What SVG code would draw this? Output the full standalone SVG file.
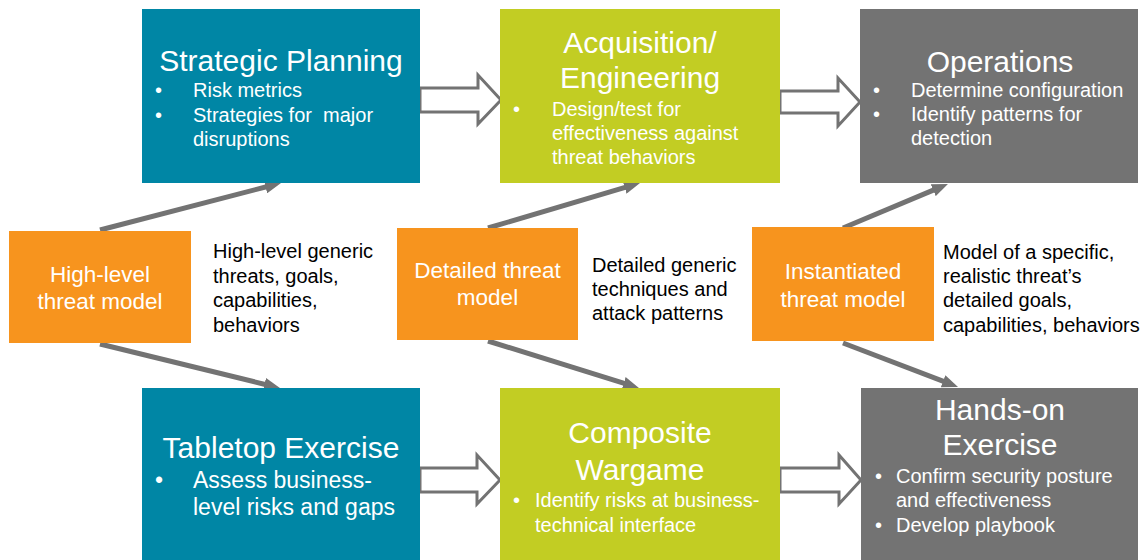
<svg xmlns="http://www.w3.org/2000/svg" width="1145" height="560" viewBox="0 0 1145 560">
<style>
  text { font-family: "Liberation Sans", Arial, sans-serif; }
  .teal { fill: #0086A5; }
  .lime { fill: #C2CD23; }
  .gray { fill: #737373; }
  .orange { fill: #F7941E; }
  .title { fill: #FFFFFF; font-size: 30px; text-anchor: middle; }
  .item { fill: #FFFFFF; font-size: 20px; }
  .item23 { fill: #FFFFFF; font-size: 23px; }
  .otext { fill: #FFFFFF; font-size: 22.5px; text-anchor: middle; }
  .desc { fill: #000000; font-size: 20px; }
  .conn { stroke: #737373; stroke-width: 5; fill: none; marker-end: url(#ah); }
  .block { fill: #FFFFFF; stroke: #737373; stroke-width: 3; stroke-linejoin: miter; }
</style>
<defs>
  <marker id="ah" markerUnits="userSpaceOnUse" markerWidth="16" markerHeight="13" refX="4" refY="6.5" orient="auto">
    <path d="M0,0 L16,6.5 L0,13 z" fill="#737373"/>
  </marker>
</defs>
<rect width="1145" height="560" fill="#FFFFFF"/>

<g id="connectors">
  <path class="block" d="M420,88 L478,88 L478,75 L501,100 L478,124 L478,112 L420,112 z"/>
  <path class="block" d="M780,91 L838,91 L838,78 L860,102 L838,126 L838,113 L780,113 z"/>
  <path class="block" d="M420,468 L477,468 L477,455 L500,480 L477,504 L477,492 L420,492 z"/>
  <path class="block" d="M780,468 L839,468 L839,455 L861,480 L839,504 L839,492 L780,492 z"/>
  <line class="conn" x1="100" y1="230" x2="269.4" y2="186"/>
  <line class="conn" x1="100" y1="344" x2="268.3" y2="385.2"/>
  <line class="conn" x1="488" y1="228" x2="628.5" y2="186.4"/>
  <line class="conn" x1="488" y1="341" x2="627.5" y2="384.4"/>
  <line class="conn" x1="843" y1="228" x2="936.9" y2="188.6"/>
  <line class="conn" x1="843" y1="343" x2="946.8" y2="382.7"/>
</g>

<g id="strategic-planning">
  <rect class="teal" x="142" y="9" width="278" height="174"/>
  <text class="title" x="281" y="71">Strategic Planning</text>
  <text class="item" x="155" y="97">•</text>
  <text class="item" x="193" y="97">Risk metrics</text>
  <text class="item" x="155" y="122">•</text>
  <text class="item" x="193" y="122" style="white-space:pre">Strategies for  major</text>
  <text class="item" x="193" y="146">disruptions</text>
</g>

<g id="acquisition-engineering">
  <rect class="lime" x="500" y="9" width="280" height="174"/>
  <text class="title" x="640" y="53">Acquisition/</text>
  <text class="title" x="640" y="88">Engineering</text>
  <text class="item" x="513" y="116">•</text>
  <text class="item" x="552" y="116">Design/test for</text>
  <text class="item" x="552" y="140">effectiveness against</text>
  <text class="item" x="552" y="164">threat behaviors</text>
</g>

<g id="operations">
  <rect class="gray" x="860" y="9" width="278" height="174"/>
  <text class="title" x="1000" y="72">Operations</text>
  <text class="item" x="873" y="97">•</text>
  <text class="item" x="911" y="97">Determine configuration</text>
  <text class="item" x="873" y="121">•</text>
  <text class="item" x="911" y="121">Identify patterns for</text>
  <text class="item" x="911" y="145">detection</text>
</g>

<g id="high-level-threat-model">
  <rect class="orange" x="9" y="231" width="182" height="112"/>
  <text class="otext" x="100" y="282">High-level</text>
  <text class="otext" x="100" y="309">threat model</text>
</g>
<g id="high-level-desc">
  <text class="desc" x="213" y="258">High-level generic</text>
  <text class="desc" x="213" y="283">threats, goals,</text>
  <text class="desc" x="213" y="307">capabilities,</text>
  <text class="desc" x="213" y="332">behaviors</text>
</g>

<g id="detailed-threat-model">
  <rect class="orange" x="397" y="228" width="181" height="112"/>
  <text class="otext" x="487.5" y="278">Detailed threat</text>
  <text class="otext" x="487.5" y="305">model</text>
</g>
<g id="detailed-desc">
  <text class="desc" x="592" y="272">Detailed generic</text>
  <text class="desc" x="592" y="296">techniques and</text>
  <text class="desc" x="592" y="320">attack patterns</text>
</g>

<g id="instantiated-threat-model">
  <rect class="orange" x="752" y="227" width="182" height="114"/>
  <text class="otext" x="843" y="279">Instantiated</text>
  <text class="otext" x="843" y="307">threat model</text>
</g>
<g id="instantiated-desc">
  <text class="desc" x="943" y="259">Model of a specific,</text>
  <text class="desc" x="943" y="283">realistic threat’s</text>
  <text class="desc" x="943" y="307">detailed goals,</text>
  <text class="desc" x="943" y="332">capabilities, behaviors</text>
</g>

<g id="tabletop-exercise">
  <rect class="teal" x="142" y="388" width="278" height="172"/>
  <text class="title" x="281" y="458">Tabletop Exercise</text>
  <text class="item23" x="155" y="488">•</text>
  <text class="item23" x="193" y="488">Assess business-</text>
  <text class="item23" x="193" y="515">level risks and gaps</text>
</g>

<g id="composite-wargame">
  <rect class="lime" x="500" y="388" width="280" height="172"/>
  <text class="title" x="640" y="443">Composite</text>
  <text class="title" x="640" y="480">Wargame</text>
  <text class="item" x="513" y="507">•</text>
  <text class="item" x="535" y="507">Identify risks at business-</text>
  <text class="item" x="535" y="532">technical interface</text>
</g>

<g id="hands-on-exercise">
  <rect class="gray" x="861" y="388" width="277" height="172"/>
  <text class="title" x="1000" y="420">Hands-on</text>
  <text class="title" x="1000" y="455">Exercise</text>
  <text class="item" x="875" y="483">•</text>
  <text class="item" x="896" y="483">Confirm security posture</text>
  <text class="item" x="896" y="507">and effectiveness</text>
  <text class="item" x="875" y="532">•</text>
  <text class="item" x="896" y="532">Develop playbook</text>
</g>
</svg>
